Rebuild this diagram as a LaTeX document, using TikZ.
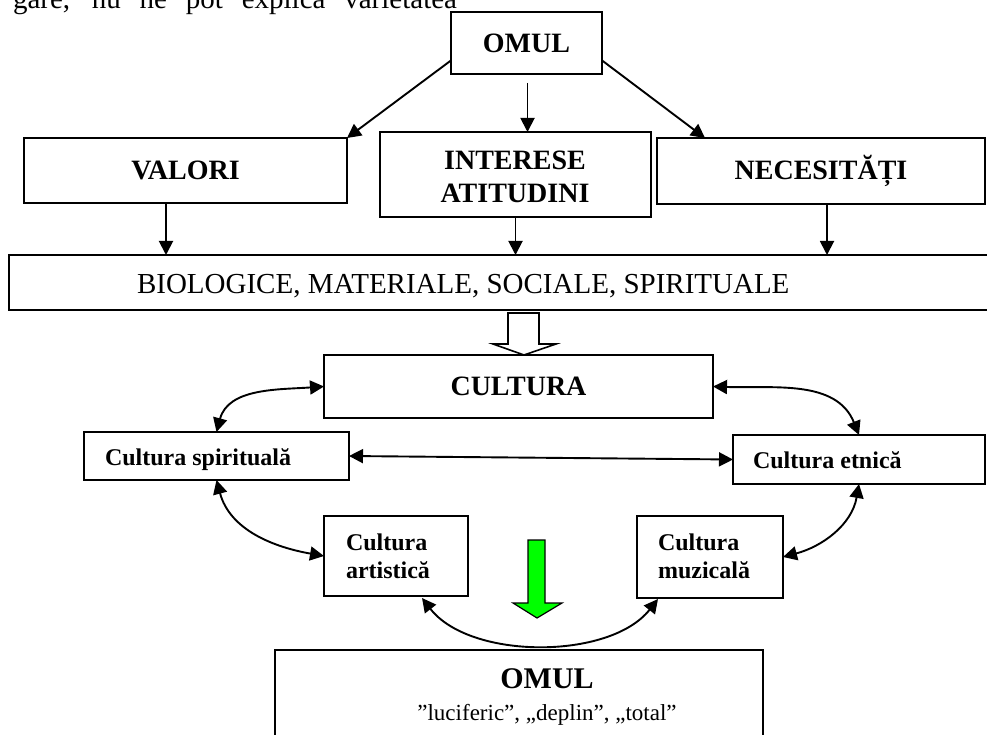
\documentclass[tikz,border=0pt]{standalone}
\usepackage{fontspec}
\setmainfont{Liberation Serif}
\usetikzlibrary{arrows.meta,calc}
\definecolor{brightgreen}{RGB}{0,255,0}
\begin{document}
\begin{tikzpicture}[x=1pt,y=-1pt,
  box/.style={draw,line width=1.9pt,rectangle,inner sep=0pt,outer sep=0pt},
  tip/.tip={Triangle[length=14pt,width=14pt]},
  arr/.style={line width=1.9pt,-tip},
  darr/.style={line width=1.9pt,tip-tip},
  bigb/.style={font=\fontsize{28}{33}\selectfont\bfseries},
  smb/.style={font=\fontsize{24}{28}\selectfont\bfseries},
  body/.style={font=\fontsize{29}{34}\selectfont},
  txt/.style={inner sep=0pt,outer sep=0pt},
  blockarrow/.style={draw,line width=1.6pt,line join=miter}
  ]
\useasboundingbox (0,0) rectangle (987,735);
\fill[white] (0,0) rectangle (987,735);

% cut-off line of text at the top
\node[txt,body,anchor=base west] (toptext) at (13,9) {\makebox[444pt][s]{gare, nu ne pot explica varietatea}};

% boxes
\node[box,bigb,minimum width=151pt,minimum height=62pt,anchor=north west] (omul1) at (451,12) {OMUL};
\node[box,bigb,minimum width=323pt,minimum height=65pt,anchor=north west] (valori) at (24,138) {VALORI};
\node[box,minimum width=271pt,minimum height=85pt,anchor=north west] (inter) at (380,132) {};
\node[txt,bigb,anchor=base] (inter1) at (515,170) {INTERESE};
\node[txt,bigb,anchor=base] (inter2) at (515,203) {ATITUDINI};
\node[box,bigb,minimum width=328pt,minimum height=66pt,anchor=north west] (necesit) at (657,138) {NECESITĂȚI};
\node[box,minimum width=990pt,minimum height=55pt,anchor=north west] (bio) at (9,255) {};
\node[txt,body,anchor=base west] (biotext) at (137,293) {BIOLOGICE, MATERIALE, SOCIALE, SPIRITUALE};
\node[box,bigb,minimum width=389pt,minimum height=63pt,anchor=north west] (cultura) at (324,355) {CULTURA};
\node[box,minimum width=265pt,minimum height=48pt,anchor=north west] (spir) at (84,432) {};
\node[txt,smb,anchor=base west] (spirtext) at (105,465) {Cultura spirituală};
\node[box,minimum width=252pt,minimum height=49pt,anchor=north west] (etnic) at (733,435) {};
\node[txt,smb,anchor=base west] (etnictext) at (753,468) {Cultura etnică};
\node[box,minimum width=144pt,minimum height=80pt,anchor=north west] (artis) at (324,516) {};
\node[txt,smb,anchor=base west] (artis1) at (346,550) {Cultura};
\node[txt,smb,anchor=base west] (artis2) at (346,578) {artistică};
\node[box,minimum width=146pt,minimum height=82pt,anchor=north west] (muzic) at (637,516) {};
\node[txt,smb,anchor=base west] (muzic1) at (658,550) {Cultura};
\node[txt,smb,anchor=base west] (muzic2) at (658,578) {muzicală};
\node[box,minimum width=488pt,minimum height=120pt,anchor=north west] (omul2) at (275,650) {};
\node[txt,font=\fontsize{30}{34}\selectfont\bfseries,anchor=base] (omul2title) at (547,688) {OMUL};
\node[txt,font=\fontsize{23}{27}\selectfont,anchor=base] (omul2sub) at (547,720) {”luciferic”, „deplin”, „total”};

% connector ends
\coordinate (midtop) at ($(omul1.south)+(1,9)$);
\coordinate (necin) at ($(necesit.north west)+(48,0)$);
\coordinate (vx) at (166,0);
\coordinate (nx) at (827,0);
\coordinate (artb) at (422,598);
\coordinate (muzb) at (658,599);

% arrows from OMUL
\draw[arr] (omul1.193) -- (valori.north east);
\draw[arr] (midtop) -- (midtop |- inter.north);
\draw[arr] (omul1.-13) -- (necin);

% arrows down to the wide box
\draw[arr] (valori.south -| vx) -- (bio.north -| vx);
\draw[arr] (inter.south) -- (bio.north -| inter.south);
\draw[arr] (necesit.south -| nx) -- (bio.north -| nx);

% hollow block arrow
\draw[blockarrow,fill=white] (508,313) -- (539,313) -- (539,344) -- (556,344) -- (524,355) -- (493,344) -- (508,344) -- cycle;

% double arrows
\draw[darr] (spir.north) to[out=75,in=184] (cultura.west);
\draw[darr] (cultura.east) to[out=-2,in=112] (etnic.north);
\draw[darr] (spir.east) -- (etnic.west);
\draw[darr] (spir.south) to[out=-75,in=170] (artis.west);
\draw[darr] (etnic.south) to[out=-100,in=15] (muzic.east);
\draw[darr] (artb) .. controls (470,660) and (610,660) .. (muzb);

% green block arrow
\draw[blockarrow,line width=1.2pt,fill=brightgreen] (528,540) -- (545,540) -- (545,603) -- (562,603) -- (537,618) -- (513,603) -- (528,603) -- cycle;
\end{tikzpicture}
\end{document}
